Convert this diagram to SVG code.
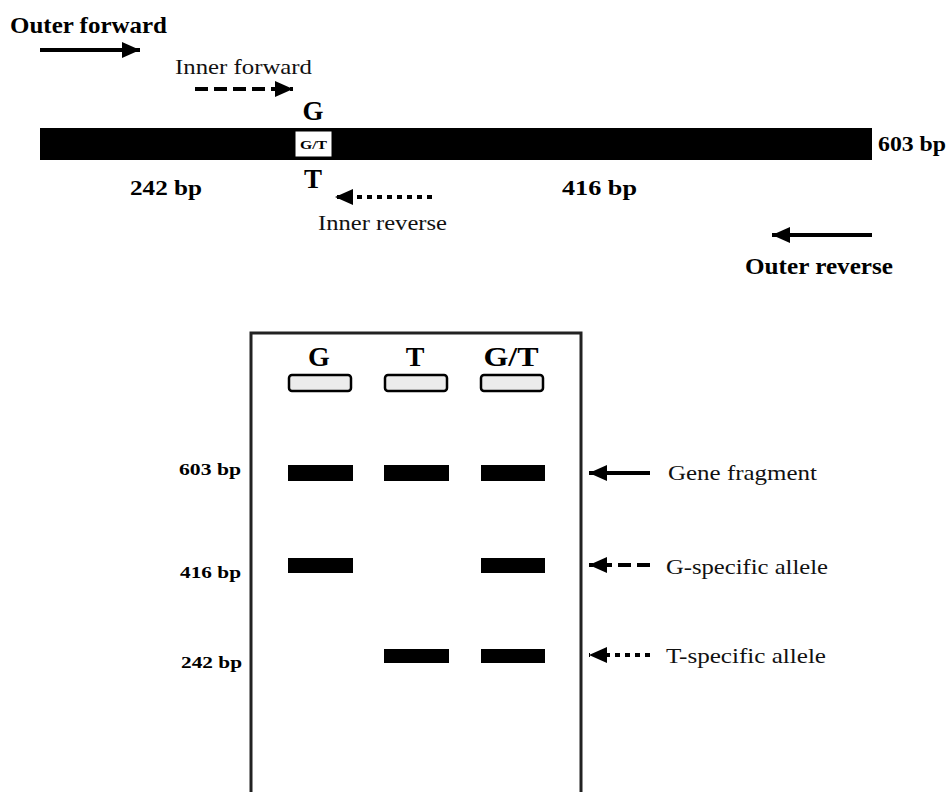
<svg xmlns="http://www.w3.org/2000/svg" width="952" height="792" viewBox="0 0 952 792">
<style>
.b{font-family:"Liberation Serif","Times New Roman",serif;font-weight:bold;fill:#000}
.r{font-family:"Liberation Serif","Times New Roman",serif;fill:#111}
.arr{stroke:#000;stroke-width:4;fill:none}
.dash{stroke-dasharray:13 6}
.dot{stroke-dasharray:5 5}
.band{fill:#000}
.well{fill:#ececec;stroke:#000;stroke-width:2.5}
</style>
<defs>
<marker id="ah" markerUnits="userSpaceOnUse" markerWidth="20" markerHeight="18" refX="18" refY="8" orient="auto">
<path d="M0,0 L18,8 L0,16 Z" fill="#000"/>
</marker>
</defs>
<rect width="952" height="792" fill="#fff"/>
<g id="map">
<text class="b" x="10" y="33" font-size="23" textLength="157" lengthAdjust="spacingAndGlyphs">Outer forward</text>
<text class="r" x="175" y="74" font-size="21" textLength="137" lengthAdjust="spacingAndGlyphs">Inner forward</text>
<text class="b" x="313" y="120" font-size="27" text-anchor="middle">G</text>
<rect x="40" y="128" width="832" height="32" fill="#000"/>
<rect x="295" y="131" width="37" height="26" fill="#fff" stroke="#000" stroke-width="1"/>
<text class="b" x="313.5" y="149" font-size="13" text-anchor="middle" textLength="27" lengthAdjust="spacingAndGlyphs">G/T</text>
<text class="b" x="878" y="151" font-size="22" textLength="68" lengthAdjust="spacingAndGlyphs">603 bp</text>
<text class="b" x="313" y="188" font-size="27" text-anchor="middle">T</text>
<text class="b" x="130" y="195" font-size="22" textLength="72" lengthAdjust="spacingAndGlyphs">242 bp</text>
<text class="b" x="562" y="195" font-size="22" textLength="75" lengthAdjust="spacingAndGlyphs">416 bp</text>
<text class="r" x="318" y="230" font-size="21" textLength="129" lengthAdjust="spacingAndGlyphs">Inner reverse</text>
<text class="b" x="745" y="274" font-size="23" textLength="148" lengthAdjust="spacingAndGlyphs">Outer reverse</text>
</g>
<g id="gel">
<path d="M251,792 L251,333 L581,333 L581,792" fill="none" stroke="#222" stroke-width="3"/>
<text class="b" x="319" y="366" font-size="28" text-anchor="middle">G</text>
<text class="b" x="415" y="366" font-size="28" text-anchor="middle">T</text>
<text class="b" x="511" y="366" font-size="28" text-anchor="middle" textLength="55" lengthAdjust="spacingAndGlyphs">G/T</text>
<rect class="well" x="289" y="375" width="62" height="16" rx="3"/>
<rect class="well" x="385" y="375" width="62" height="16" rx="3"/>
<rect class="well" x="481" y="375" width="62" height="16" rx="3"/>
<text class="b" x="179" y="475" font-size="17" textLength="62" lengthAdjust="spacingAndGlyphs">603 bp</text>
<text class="b" x="180" y="578" font-size="17" textLength="61" lengthAdjust="spacingAndGlyphs">416 bp</text>
<text class="b" x="181" y="668" font-size="17" textLength="61" lengthAdjust="spacingAndGlyphs">242 bp</text>
<rect class="band" x="288" y="465" width="65" height="16"/>
<rect class="band" x="384" y="465" width="65" height="16"/>
<rect class="band" x="481" y="465" width="64" height="16"/>
<rect class="band" x="288" y="558" width="65" height="15"/>
<rect class="band" x="481" y="558" width="64" height="15"/>
<rect class="band" x="384" y="649" width="65" height="14"/>
<rect class="band" x="481" y="649" width="64" height="14"/>
<text class="r" x="668" y="480" font-size="21" textLength="149" lengthAdjust="spacingAndGlyphs">Gene fragment</text>
<text class="r" x="666" y="574" font-size="21" textLength="162" lengthAdjust="spacingAndGlyphs">G-specific allele</text>
<text class="r" x="666" y="663" font-size="21" textLength="160" lengthAdjust="spacingAndGlyphs">T-specific allele</text>
</g>
<g id="connectors">
<line class="arr" x1="40" y1="50" x2="140" y2="50" marker-end="url(#ah)"/>
<line class="arr dash" x1="195" y1="89" x2="293" y2="89" marker-end="url(#ah)"/>
<line class="arr dot" x1="432" y1="197" x2="335" y2="197" marker-end="url(#ah)"/>
<line class="arr" x1="872" y1="235" x2="772" y2="235" marker-end="url(#ah)"/>
<line class="arr" x1="650" y1="473" x2="589" y2="473" marker-end="url(#ah)"/>
<line class="arr dash" x1="650" y1="565" x2="589" y2="565" marker-end="url(#ah)"/>
<line class="arr dot" x1="650" y1="655" x2="589" y2="655" marker-end="url(#ah)"/>
</g>
</svg>
